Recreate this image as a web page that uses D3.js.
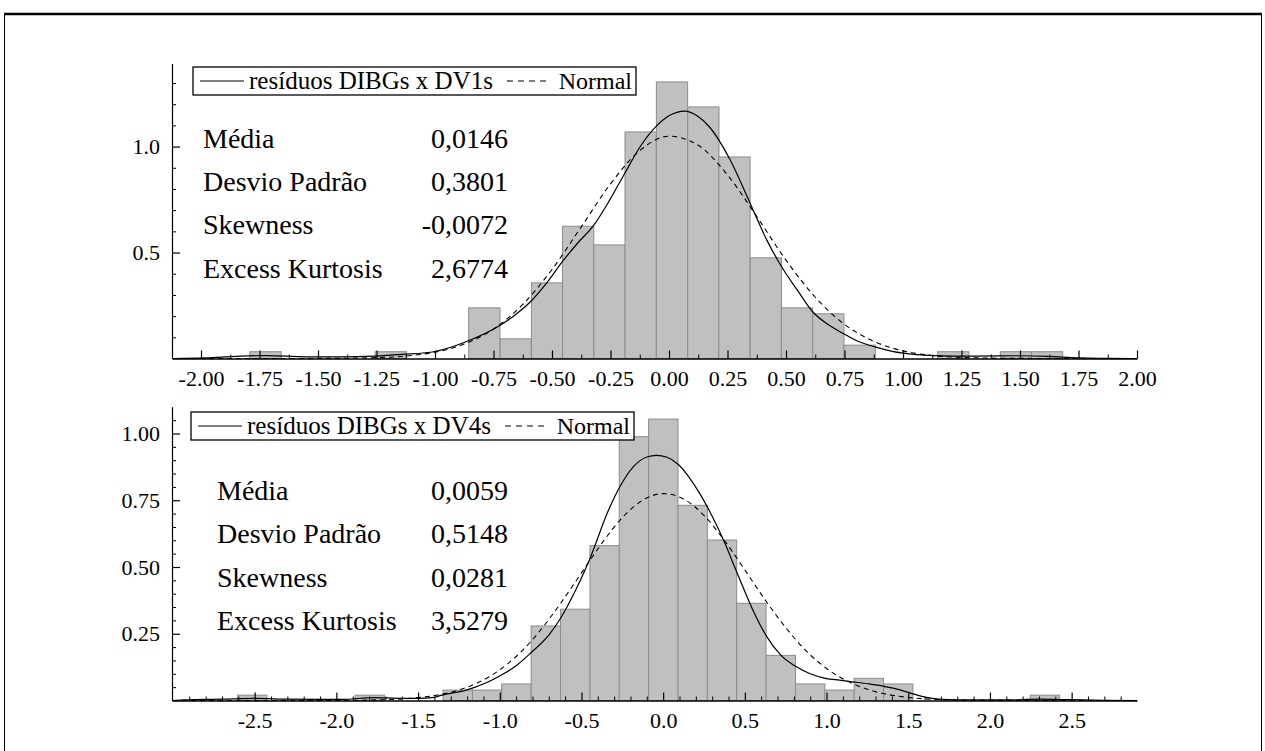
<!DOCTYPE html>
<html>
<head>
<meta charset="utf-8">
<script src="https://cdn.jsdelivr.net/npm/d3@7"></script>
<style>
  html, body { margin: 0; padding: 0; background: #fff; }
  svg { display: block; }
  svg text { font-family: "Liberation Serif", "Times New Roman", Times, serif !important; fill: #000; }
</style>
</head>
<body>
<svg id="chart" width="1265" height="751" font-family="Liberation Serif, serif"></svg>
<script>
// ---------------- DATA ----------------
const statLabels = ["Média", "Desvio Padrão", "Skewness", "Excess Kurtosis"];

// top panel: resíduos DIBGs x DV1s
const topSeriesName = "resíduos DIBGs x DV1s";
const topStatValues = ["0,0146", "0,3801", "-0,0072", "2,6774"];
const topBinWidth = 0.1336;
const topBinLeft = [-1.791, -1.256, -0.856, -0.722, -0.588, -0.455, -0.321, -0.188, -0.054, 0.080, 0.213, 0.347, 0.480, 0.614, 0.748, 1.148, 1.416, 1.549];
const topBinDensity = [0.032, 0.032, 0.239, 0.093, 0.357, 0.624, 0.536, 1.069, 1.305, 1.187, 0.951, 0.475, 0.239, 0.211, 0.063, 0.032, 0.032, 0.032];
const topKdeX = [-2.12, -1.98, -1.85, -1.72, -1.55, -1.40, -1.26, -1.14, -1.0, -0.865, -0.72, -0.655, -0.59, -0.52, -0.455, -0.39, -0.322, -0.255, -0.19, -0.12, -0.055, 0.0, 0.068, 0.12, 0.175, 0.26, 0.346, 0.417, 0.48, 0.55, 0.612, 0.68, 0.746, 0.81, 0.88, 0.95, 1.0, 1.13, 1.3, 1.5, 1.62, 1.75, 1.85, 2.0];
const topKdeY = [0.0, 0.003, 0.010, 0.014, 0.008, 0.008, 0.011, 0.019, 0.033, 0.080, 0.158, 0.208, 0.270, 0.360, 0.458, 0.545, 0.628, 0.745, 0.872, 1.005, 1.095, 1.145, 1.167, 1.145, 1.090, 0.940, 0.734, 0.561, 0.435, 0.320, 0.223, 0.160, 0.117, 0.080, 0.055, 0.035, 0.025, 0.014, 0.011, 0.013, 0.010, 0.003, 0.001, 0.0];
const topNormX = [-2.12, -1.75, -1.5, -1.25, -1.0, -0.875, -0.75, -0.625, -0.5, -0.375, -0.25, -0.125, 0.0, 0.125, 0.25, 0.375, 0.5, 0.625, 0.75, 0.875, 1.0, 1.125, 1.25, 1.5, 1.75, 2.0];
const topNormY = [0.0, 0.0, 0.0004, 0.004, 0.030, 0.068, 0.139, 0.255, 0.420, 0.621, 0.824, 0.981, 1.049, 1.006, 0.866, 0.670, 0.464, 0.289, 0.161, 0.081, 0.036, 0.014, 0.005, 0.0005, 0.0, 0.0];
const topXMajor = [-2.00, -1.75, -1.50, -1.25, -1.00, -0.75, -0.50, -0.25, 0.00, 0.25, 0.50, 0.75, 1.00, 1.25, 1.50, 1.75, 2.00];
const topXMinor = [-1.875, -1.625, -1.375, -1.125, -0.875, -0.625, -0.375, -0.125, 0.125, 0.375, 0.625, 0.875, 1.125, 1.375, 1.625, 1.875];
const topYMajor = [0.5, 1.0];
const topYMinor = [0.1, 0.2, 0.3, 0.4, 0.6, 0.7, 0.8, 0.9, 1.1, 1.2, 1.3];

// bottom panel: resíduos DIBGs x DV4s
const botSeriesName = "resíduos DIBGs x DV4s";
const botStatValues = ["0,0059", "0,5148", "0,0281", "3,5279"];
const botBinWidth = 0.1797;
const botBinLeft = [-2.605, -1.886, -1.347, -1.167, -0.988, -0.808, -0.628, -0.448, -0.269, -0.089, 0.091, 0.270, 0.450, 0.630, 0.810, 0.989, 1.169, 1.349, 2.247];
const botBinDensity = [0.020, 0.020, 0.039, 0.039, 0.062, 0.279, 0.342, 0.580, 0.988, 1.054, 0.731, 0.601, 0.364, 0.169, 0.062, 0.039, 0.083, 0.062, 0.020];
const botKdeX = [-3.0, -2.93, -2.7, -2.5, -2.3, -2.1, -1.97, -1.77, -1.6, -1.5, -1.4, -1.36, -1.2, -1.0, -0.9, -0.807, -0.7, -0.626, -0.53, -0.446, -0.34, -0.27, -0.179, -0.1, -0.04, 0.02, 0.093, 0.16, 0.229, 0.3, 0.37, 0.454, 0.556, 0.633, 0.72, 0.813, 0.9, 0.993, 1.08, 1.16, 1.26, 1.351, 1.45, 1.535, 1.62, 1.7, 1.9, 2.1, 2.3, 2.5, 2.7, 2.9];
const botKdeY = [0.0, 0.002, 0.005, 0.008, 0.005, 0.004, 0.004, 0.011, 0.008, 0.008, 0.012, 0.019, 0.040, 0.092, 0.130, 0.180, 0.245, 0.310, 0.420, 0.535, 0.705, 0.795, 0.878, 0.912, 0.918, 0.912, 0.884, 0.835, 0.770, 0.690, 0.600, 0.476, 0.330, 0.240, 0.170, 0.127, 0.100, 0.083, 0.076, 0.070, 0.062, 0.053, 0.040, 0.024, 0.011, 0.004, 0.002, 0.002, 0.005, 0.003, 0.001, 0.0];
const botNormX = [-3.0, -2.0, -1.75, -1.5, -1.25, -1.125, -1.0, -0.875, -0.75, -0.625, -0.5, -0.375, -0.25, -0.125, 0.0, 0.125, 0.25, 0.375, 0.5, 0.625, 0.75, 0.875, 1.0, 1.125, 1.25, 1.5, 1.75, 2.0, 2.9];
const botNormY = [0.0, 0.0004, 0.0023, 0.0107, 0.0395, 0.069, 0.115, 0.179, 0.264, 0.366, 0.478, 0.589, 0.685, 0.750, 0.775, 0.755, 0.693, 0.599, 0.489, 0.376, 0.273, 0.186, 0.120, 0.073, 0.042, 0.0115, 0.0025, 0.0004, 0.0];
const botXMajor = [-2.5, -2.0, -1.5, -1.0, -0.5, 0.0, 0.5, 1.0, 1.5, 2.0, 2.5];
const botXMinor = [-2.9, -2.8, -2.7, -2.6, -2.4, -2.3, -2.2, -2.1, -1.9, -1.8, -1.7, -1.6, -1.4, -1.3, -1.2, -1.1, -0.9, -0.8, -0.7, -0.6, -0.4, -0.3, -0.2, -0.1, 0.1, 0.2, 0.3, 0.4, 0.6, 0.7, 0.8, 0.9, 1.1, 1.2, 1.3, 1.4, 1.6, 1.7, 1.8, 1.9, 2.1, 2.2, 2.3, 2.4, 2.6, 2.7, 2.8];
const botYMajor = [0.25, 0.50, 0.75, 1.00];
const botYMinor = [0.05, 0.10, 0.15, 0.20, 0.30, 0.35, 0.40, 0.45, 0.55, 0.60, 0.65, 0.70, 0.80, 0.85, 0.90, 0.95, 1.05];

// ---------------- DRAWING ----------------
const svg = d3.select("#chart");
const SERIF = "Liberation Serif, Times New Roman, serif";

// outer frame
svg.append("rect").attr("x", 4.5).attr("y", 14).attr("width", 1257).attr("height", 760)
  .attr("fill", "none").attr("stroke", "#000").attr("stroke-width", 1);
svg.append("line").attr("x1", 4).attr("x2", 1262).attr("y1", 14).attr("y2", 14)
  .attr("stroke", "#000").attr("stroke-width", 2.5);

function panel(cfg) {
  const x = d3.scaleLinear().domain(cfg.xDomain).range([172, 1137]);
  const y = d3.scaleLinear().domain(cfg.yDomain).range(cfg.yRange);
  const g = svg.append("g");

  // bars
  g.selectAll("rect.bar").data(cfg.binLeft.map((l, i) => ({ l, h: cfg.binDensity[i] })))
    .join("rect").attr("class", "bar")
    .attr("x", d => x(d.l))
    .attr("width", d => x(d.l + cfg.binWidth) - x(d.l))
    .attr("y", d => y(d.h))
    .attr("height", d => y(0) - y(d.h))
    .attr("fill", "#c0c0c0").attr("stroke", "#8c8c8c").attr("stroke-width", 1);

  const line = d3.line().x(d => x(d[0])).y(d => y(d[1])).curve(d3.curveMonotoneX);
  g.append("path").datum(cfg.normX.map((v, i) => [v, cfg.normY[i]]))
    .attr("d", line).attr("fill", "none").attr("stroke", "#000").attr("stroke-width", 1.1)
    .attr("stroke-dasharray", "5,4");
  g.append("path").datum(cfg.kdeX.map((v, i) => [v, cfg.kdeY[i]]))
    .attr("d", line).attr("fill", "none").attr("stroke", "#000").attr("stroke-width", 1.2);

  // axes
  const y0 = y(0);
  const xMaj = d3.axisBottom(x).tickValues(cfg.xMajor).tickFormat(cfg.xFmt)
    .tickSizeInner(-8).tickSizeOuter(0).tickPadding(12);
  const xMin = d3.axisBottom(x).tickValues(cfg.xMinor).tickFormat("")
    .tickSizeInner(-4).tickSizeOuter(0);
  const gx = g.append("g").attr("transform", `translate(0,${y0})`).call(xMaj);
  g.append("g").attr("transform", `translate(0,${y0})`).call(xMin).select(".domain").remove();
  gx.attr("font-family", SERIF).attr("font-size", 22);
  gx.select(".domain").attr("stroke-width", 1.6);
  gx.selectAll(".tick line").attr("stroke-width", 1.2);
  gx.selectAll(".tick text").attr("font-size", 22).attr("dy", "0.71em");

  const yMaj = d3.axisLeft(y).tickValues(cfg.yMajor).tickFormat(cfg.yFmt)
    .tickSizeInner(-8).tickSizeOuter(0).tickPadding(12);
  const yMin = d3.axisLeft(y).tickValues(cfg.yMinor).tickFormat("")
    .tickSizeInner(-4).tickSizeOuter(0);
  const gy = g.append("g").attr("transform", `translate(172,0)`).call(yMaj);
  g.append("g").attr("transform", `translate(172,0)`).call(yMin).select(".domain").remove();
  gy.attr("font-family", SERIF).attr("font-size", 22);
  gy.select(".domain").attr("stroke-width", 1.2);
  gy.selectAll(".tick line").attr("stroke-width", 1.2);
  gy.selectAll(".tick text").attr("font-size", 22);
  g.selectAll(".domain, .tick line").attr("stroke", "#000");

  // legend
  const L = cfg.legend;
  g.append("rect").attr("x", L.x).attr("y", L.y).attr("width", L.w).attr("height", L.h)
    .attr("fill", "#fff").attr("stroke", "#000").attr("stroke-width", 1.3);
  const ly = L.y + L.h / 2;
  g.append("line").attr("x1", L.x + 7).attr("x2", L.x + 51).attr("y1", ly).attr("y2", ly)
    .attr("stroke", "#000").attr("stroke-width", 1.1);
  g.append("text").attr("x", L.x + 56).attr("y", ly + 8).attr("font-size", 25)
    .attr("textLength", 244).attr("lengthAdjust", "spacingAndGlyphs").text(cfg.name);
  g.append("line").attr("x1", L.x + 314).attr("x2", L.x + 354).attr("y1", ly).attr("y2", ly)
    .attr("stroke", "#000").attr("stroke-width", 1.1).attr("stroke-dasharray", "6,5");
  g.append("text").attr("x", L.x + L.w - 4).attr("y", ly + 8).attr("font-size", 24)
    .attr("text-anchor", "end").text("Normal");

  // stats
  statLabels.forEach((s, i) => {
    const by = cfg.statY + i * cfg.statDy;
    g.append("text").attr("x", cfg.statX).attr("y", by).attr("font-size", 28).text(s);
    g.append("text").attr("x", 508).attr("y", by).attr("font-size", 28)
      .attr("text-anchor", "end").text(cfg.statValues[i]);
  });
}

const fmt2 = d => d.toFixed(2);
const fmt1 = d => d.toFixed(1);

panel({
  name: topSeriesName, statValues: topStatValues,
  xDomain: [-2.124, 2.0], yDomain: [0, 1.392], yRange: [358.5, 63.5],
  binLeft: topBinLeft, binDensity: topBinDensity, binWidth: topBinWidth,
  kdeX: topKdeX, kdeY: topKdeY, normX: topNormX, normY: topNormY,
  xMajor: topXMajor, xMinor: topXMinor, xFmt: fmt2,
  yMajor: topYMajor, yMinor: topYMinor, yFmt: fmt1,
  legend: { x: 193, y: 67, w: 443, h: 28 },
  statX: 203, statY: 148, statDy: 43.2
});

panel({
  name: botSeriesName, statValues: botStatValues,
  xDomain: [-3.006, 2.90], yDomain: [0, 1.1], yRange: [700.5, 406.8],
  binLeft: botBinLeft, binDensity: botBinDensity, binWidth: botBinWidth,
  kdeX: botKdeX, kdeY: botKdeY, normX: botNormX, normY: botNormY,
  xMajor: botXMajor, xMinor: botXMinor, xFmt: fmt1,
  yMajor: botYMajor, yMinor: botYMinor, yFmt: fmt2,
  legend: { x: 191, y: 412, w: 443, h: 28 },
  statX: 217, statY: 500, statDy: 43.3
});
</script>
</body>
</html>
